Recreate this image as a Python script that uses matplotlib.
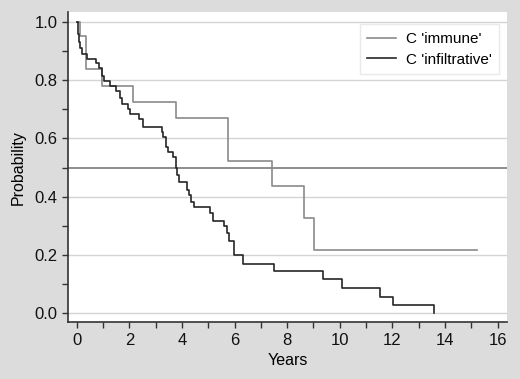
import matplotlib
matplotlib.use("Agg")
import matplotlib.pyplot as plt
from matplotlib.ticker import MultipleLocator

plt.rcParams['font.family'] = ['Liberation Sans', 'DejaVu Sans']

# Kaplan-Meier estimates (time in years, survival prob.)
immune_t = [0.0, 0.13, 0.35, 0.96, 2.14, 3.78, 5.74, 7.41, 8.63, 9.02, 15.23]
immune_p = [1.0, 0.952, 0.838, 0.781, 0.726, 0.669, 0.521, 0.437, 0.326, 0.216, 0.216]

infil_t = [0.0, 0.03, 0.07, 0.14, 0.19, 0.40, 0.73, 0.84, 0.95, 1.05, 1.27,
           1.48, 1.65, 1.71, 1.96, 2.03, 2.38, 2.53, 3.23, 3.29, 3.38, 3.45,
           3.64, 3.78, 3.82, 3.90, 4.18, 4.26, 4.36, 4.46, 5.07, 5.19, 5.61,
           5.70, 5.80, 5.96, 6.31, 7.50, 9.38, 10.09, 11.53, 12.04, 13.60]
infil_p = [1.0, 0.96, 0.93, 0.91, 0.89, 0.874, 0.858, 0.841, 0.814, 0.797, 0.78,
           0.764, 0.739, 0.718, 0.70, 0.683, 0.666, 0.638, 0.621, 0.604, 0.571, 0.554,
           0.537, 0.50, 0.474, 0.451, 0.424, 0.405, 0.383, 0.363, 0.343, 0.316, 0.299,
           0.276, 0.249, 0.199, 0.17, 0.146, 0.117, 0.086, 0.057, 0.029, 0.0]

series_labels = ["C 'immune'", "C 'infiltrative'"]

fig = plt.figure(figsize=(5.2, 3.79), dpi=100, facecolor='#dcdcdc')
ax = fig.add_axes([0.131, 0.150, 0.844, 0.818])
ax.set_facecolor('white')

for y in [0.0, 0.2, 0.4, 0.6, 0.8, 1.0]:
    ax.axhline(y, color='#d4d4d4', lw=1.0, zorder=1)
ax.axhline(0.5, color='#7a7a7a', lw=1.2, zorder=2)

ax.step(immune_t, immune_p, where='post', color='#8a8a8a', lw=1.2,
        label=series_labels[0], zorder=3)
ax.step(infil_t, infil_p, where='post', color='#262626', lw=1.2,
        label=series_labels[1], zorder=4)

ax.set_xlim(-0.33, 16.36)
ax.set_ylim(-0.031, 1.034)
ax.xaxis.set_major_locator(MultipleLocator(2))
ax.xaxis.set_minor_locator(MultipleLocator(1))
ax.yaxis.set_major_locator(MultipleLocator(0.2))
ax.yaxis.set_minor_locator(MultipleLocator(0.1))
ax.yaxis.set_major_formatter(plt.FormatStrFormatter('%.1f'))

for s in ['top', 'right']:
    ax.spines[s].set_visible(False)
for s in ['left', 'bottom']:
    ax.spines[s].set_color('#333333')
    ax.spines[s].set_linewidth(1.2)
ax.tick_params(which='both', direction='out', color='#333333', width=1.0)
ax.tick_params(which='major', length=4, labelsize=12, labelcolor='#111111')
ax.tick_params(which='minor', length=4)

ax.set_xlabel('Years', fontsize=11.5, labelpad=4)
ax.set_ylabel('Probability', fontsize=11.5, labelpad=6)

leg = ax.legend(loc='upper right', bbox_to_anchor=(0.982, 0.961),
                borderaxespad=0, fontsize=11, frameon=True, fancybox=False,
                handlelength=1.9, handletextpad=0.6,
                borderpad=0.5, labelspacing=0.45)
leg.get_frame().set_edgecolor('#e4e4e4')
leg.get_frame().set_linewidth(1.0)

fig.savefig('out.png', dpi=100, facecolor=fig.get_facecolor())
